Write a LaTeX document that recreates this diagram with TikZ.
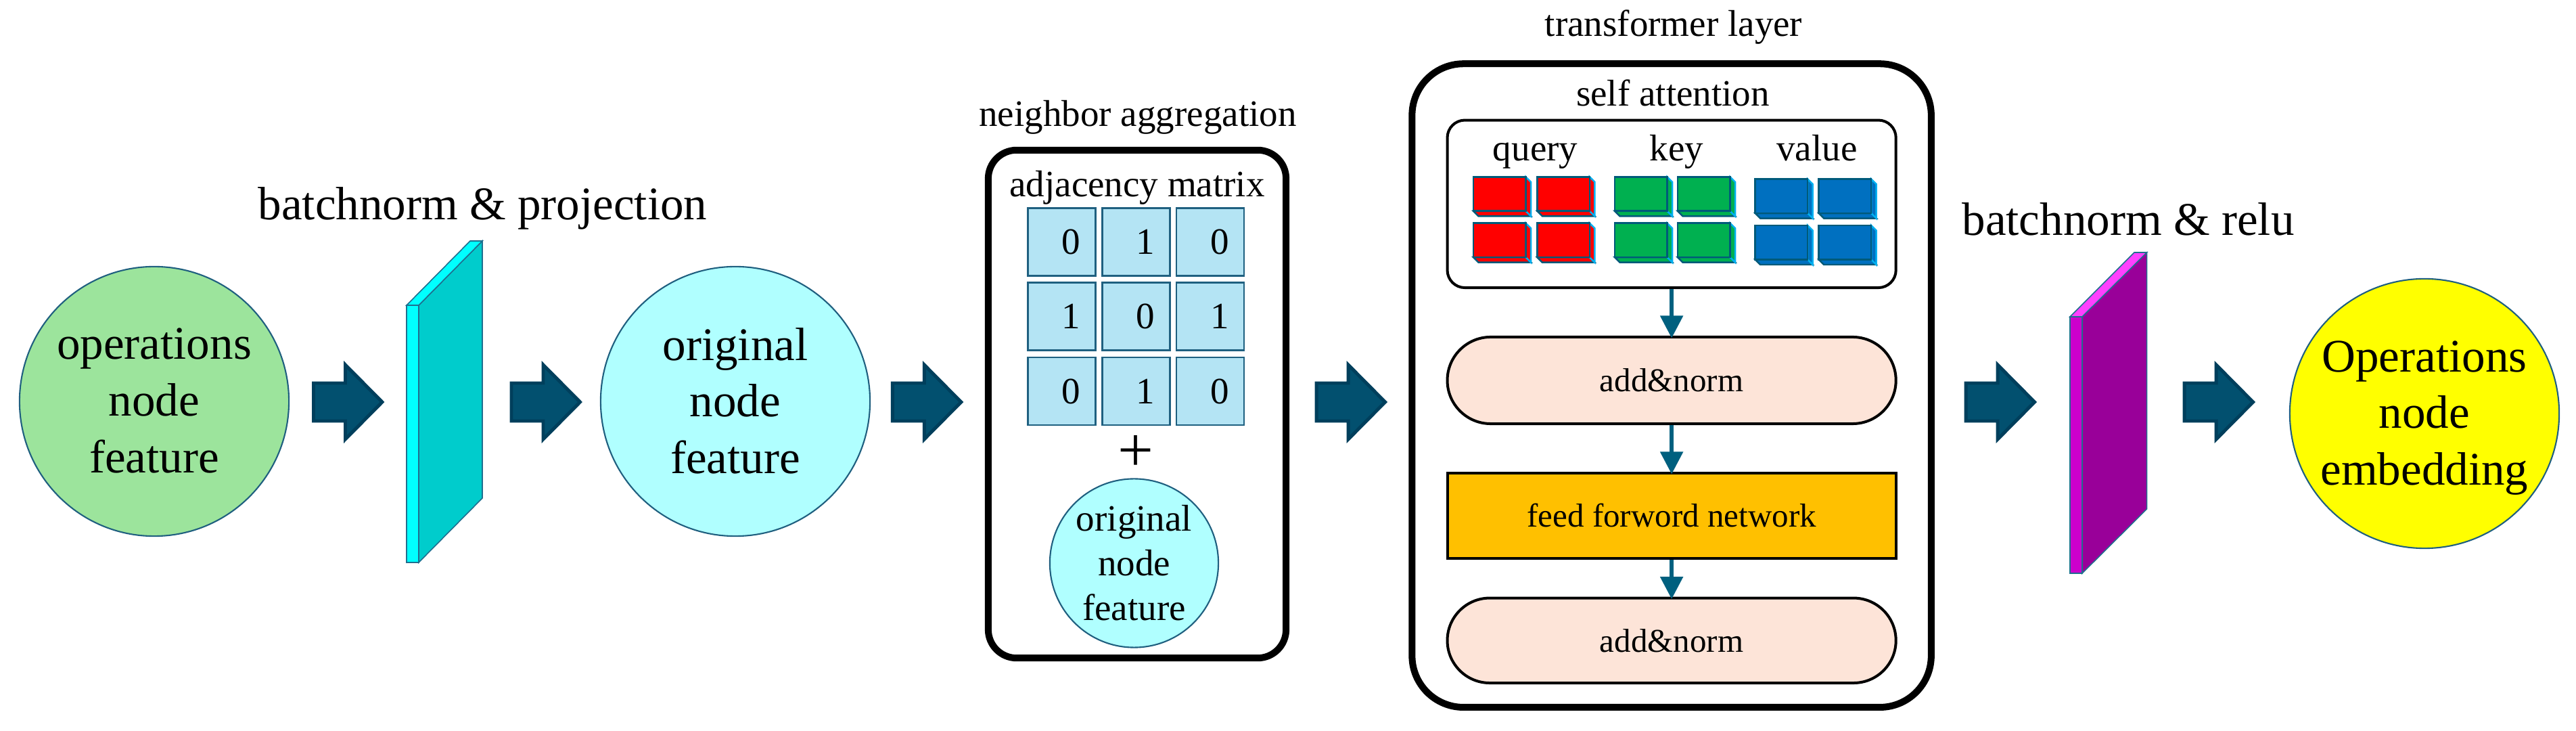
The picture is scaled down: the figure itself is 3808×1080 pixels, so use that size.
\documentclass[tikz,border=0pt]{standalone}
\usepackage{fontspec}
\setmainfont{Liberation Serif}
\usetikzlibrary{arrows.meta}
\definecolor{greenfill}{HTML}{9CE49C}
\definecolor{cyanfill}{HTML}{B0FFFF}
\definecolor{yellowfill}{HTML}{FFFF00}
\definecolor{circedge}{HTML}{1F5F7F}
\definecolor{arrowfill}{HTML}{02506F}
\definecolor{arrowedge}{HTML}{003F5C}
\definecolor{paneledge}{HTML}{1F6F8F}
\definecolor{cyanstrip}{HTML}{00FFFF}
\definecolor{cyanmain}{HTML}{00CCCC}
\definecolor{purpstrip}{HTML}{CC00CC}
\definecolor{purptop}{HTML}{FF40FF}
\definecolor{purpmain}{HTML}{990099}
\definecolor{cellfill}{HTML}{B4E4F4}
\definecolor{celledge}{HTML}{1F6080}
\definecolor{normfill}{HTML}{FDE4D8}
\definecolor{ffnfill}{HTML}{FFC000}
\definecolor{qred}{HTML}{FF0000}
\definecolor{kgreen}{HTML}{00B050}
\definecolor{vblue}{HTML}{0070C0}
\definecolor{blockedge}{HTML}{005A7A}
\definecolor{sidehl}{HTML}{00B0F0}
\definecolor{downcol}{HTML}{00607F}
\tikzset{
  bigfont/.style={font=\fontsize{19.64pt}{23.76pt}\selectfont},
  midfont/.style={font=\fontsize{15.65pt}{18.66pt}\selectfont},
  smallfont/.style={font=\fontsize{13.94pt}{16pt}\selectfont},
  bigcirc/.style={circle, draw=circedge, line width=0.6pt, minimum size=3.98cm, inner sep=0pt},
  smallcirc/.style={circle, draw=circedge, line width=0.6pt, minimum size=2.49cm, inner sep=0pt, fill=cyanfill},
  ctext/.style={align=center, inner sep=0pt},
  title/.style={anchor=base, inner sep=0pt},
  cell/.style={draw=celledge, fill=cellfill, line width=0.7pt, minimum width=1cm, minimum height=1cm, inner sep=0pt, midfont},
  bigbox/.style={draw=black, line width=2.85pt, inner sep=0pt},
  innerbox/.style={draw=black, line width=1.14pt, inner sep=0pt, minimum width=6.628cm, smallfont},
  downarrow/.style={draw=downcol, line width=1.56pt, -{Triangle[width=0.33cm, length=0.33cm]}, shorten >=-1pt},
  barrow/.pic={\filldraw[fill=arrowfill, draw=arrowedge, line width=1.4pt, line join=miter]
      (-50.5,-28) -- (-3.5,-28) -- (-3.5,-55) -- (51,0) -- (-3.5,55) -- (-3.5,28) -- (-50.5,28) -- cycle;},
  qkv/.pic={
      \filldraw[fill=#1, draw=blockedge, line width=0.7pt] (0,50.5) -- (77.5,50.5) -- (85,58) -- (7.5,58) -- cycle;
      \filldraw[fill=#1, draw=sidehl, line width=0.7pt] (77.5,0) -- (85,7.5) -- (85,58) -- (77.5,50.5) -- cycle;
      \filldraw[fill=#1, draw=blockedge, line width=0.75pt] (0,0) rectangle (77.5,50.5);}
}
\begin{document}
\begin{tikzpicture}[x=0.01cm, y=-0.01cm]
\useasboundingbox (0,0) rectangle (3808,1080);

% input circle
\node[bigcirc, fill=greenfill] (c1) at (228,593) {};
\node[ctext, bigfont] (c1t) at (228,592) {operations\\node\\feature};

% batchnorm & projection
\node[title, bigfont] (t1) at (713.5,325) {batchnorm \& projection};
\filldraw[fill=cyanstrip, draw=paneledge, line width=0.45pt] (601,451) rectangle (619,831);
\filldraw[fill=cyanmain, draw=paneledge, line width=0.45pt] (619,451) -- (713,356) -- (713,736) -- (619,831) -- cycle;
\filldraw[fill=cyanstrip, draw=paneledge, line width=0.45pt] (601,451) -- (695,356) -- (713,356) -- (619,451) -- cycle;

% original node feature
\node[bigcirc, fill=cyanfill] (c2) at (1087,593) {};
\node[ctext, bigfont] (c2t) at (1087,592) {original\\node\\feature};

% neighbor aggregation
\node[title, midfont] (t2) at (1682,187) {neighbor aggregation};
\node[bigbox, rounded corners=0.42cm, minimum width=4.4cm, minimum height=7.5cm] (na) at (1681,597) {};
\node[title, midfont] (t3) at (1681,291) {adjacency matrix};
\node[cell] (m11) at (1569.6,357.5) {\hspace*{0.28cm}0};
\node[cell] (m12) at (1679.4,357.5) {\hspace*{0.28cm}1};
\node[cell] (m13) at (1788.8,357.5) {\hspace*{0.28cm}0};
\node[cell] (m21) at (1569.6,467.6) {\hspace*{0.28cm}1};
\node[cell] (m22) at (1679.4,467.6) {\hspace*{0.28cm}0};
\node[cell] (m23) at (1788.8,467.6) {\hspace*{0.28cm}1};
\node[cell] (m31) at (1569.6,578) {\hspace*{0.28cm}0};
\node[cell] (m32) at (1679.4,578) {\hspace*{0.28cm}1};
\node[cell] (m33) at (1788.8,578) {\hspace*{0.28cm}0};
\node[inner sep=0pt, font=\fontsize{26.7pt}{30pt}\selectfont] (plus) at (1679,669.5) {+};
\node[smallcirc] (c3) at (1676.5,832) {};
\node[ctext, midfont] (c3t) at (1676.5,831.7) {original\\node\\feature};

% transformer layer
\node[title, midfont] (t4) at (2474,53.7) {transformer layer};
\node[bigbox, rounded corners=0.76cm, minimum width=7.67cm, minimum height=9.502cm] (tf) at (2471.1,569.6) {};
\node[title, midfont] (t5) at (2473,157) {self attention};
\node[innerbox, rounded corners=0.26cm, minimum height=2.474cm] (sa) at (2471.1,301.3) {};
\node[title, midfont] (q) at (2269.6,237.6) {query};
\node[title, midfont] (k) at (2478.7,237.6) {key};
\node[title, midfont] (v) at (2686,237.6) {value};
\pic at (2178,261.3) {qkv=qred};
\pic at (2272.3,261.3) {qkv=qred};
\pic at (2178,329.6) {qkv=qred};
\pic at (2272.3,329.6) {qkv=qred};
\pic at (2387,261.3) {qkv=kgreen};
\pic at (2480,261.3) {qkv=kgreen};
\pic at (2387,329.6) {qkv=kgreen};
\pic at (2480,329.6) {qkv=kgreen};
\pic at (2594.6,264.6) {qkv=vblue};
\pic at (2688.6,264.6) {qkv=vblue};
\pic at (2594.6,333) {qkv=vblue};
\pic at (2688.6,333) {qkv=vblue};
\node[innerbox, fill=normfill, rounded corners=0.64cm, minimum height=1.28cm] (an1) at (2471.1,562) {add\&norm};
\node[innerbox, fill=ffnfill, minimum height=1.255cm] (ffn) at (2471.1,761.75) {feed forword network};
\node[innerbox, fill=normfill, rounded corners=0.627cm, minimum height=1.254cm] (an2) at (2471.1,946.3) {add\&norm};
\draw[downarrow] (sa.south) -- (an1.north);
\draw[downarrow] (an1.south) -- (ffn.north);
\draw[downarrow] (ffn.south) -- (an2.north);

% batchnorm & relu
\node[title, bigfont] (t6) at (3146,347.8) {batchnorm \& relu};
\filldraw[fill=purpstrip, draw=paneledge, line width=0.45pt] (3060,468) rectangle (3078,847);
\filldraw[fill=purpmain, draw=paneledge, line width=0.45pt] (3078,468) -- (3173.6,373) -- (3173.6,752) -- (3078,847) -- cycle;
\filldraw[fill=purptop, draw=paneledge, line width=0.45pt] (3060,468) -- (3155,373) -- (3173.6,373) -- (3078,468) -- cycle;

% output circle
\node[bigcirc, fill=yellowfill] (c4) at (3584,611) {};
\node[ctext, bigfont] (c4t) at (3584,617.5) {Operations\\node\\embedding};

% block arrows
\pic at (514,594) {barrow};
\pic at (806.5,594) {barrow};
\pic at (1369.8,594) {barrow};
\pic at (1996.6,594) {barrow};
\pic at (2956.6,594) {barrow};
\pic at (3279.6,594) {barrow};
\end{tikzpicture}
\end{document}
